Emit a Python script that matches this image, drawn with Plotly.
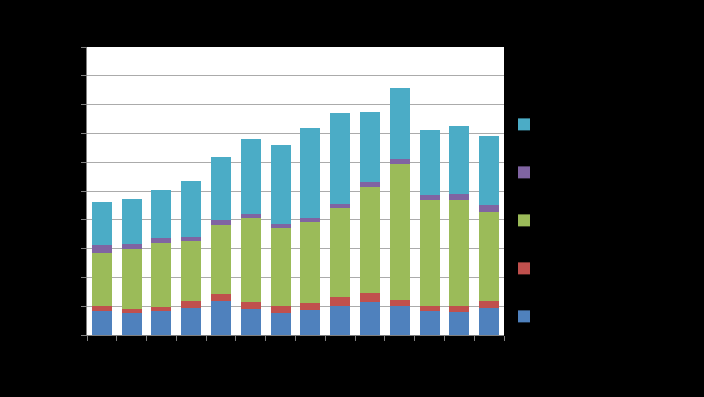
import plotly.graph_objects as go

categories = ["2000", "2001", "2002", "2003", "2004", "2005", "2006",
              "2007", "2008", "2009", "2010", "2011", "2012", "2013"]
series_names = ["Series 1", "Series 2", "Series 3", "Series 4", "Series 5"]
s1 = [8.3, 7.6, 8.2, 9.3, 11.9, 9.1, 7.5, 8.6, 10.1, 11.5, 10.1, 8.4, 7.9, 9.4]
s2 = [1.7, 1.6, 1.6, 2.6, 2.4, 2.3, 2.6, 2.6, 3.2, 3.2, 2.2, 1.5, 2.3, 2.5]
s3 = [18.5, 20.8, 22.1, 20.7, 24.0, 29.3, 26.9, 27.9, 30.9, 36.8, 47.0, 36.9, 36.8, 30.9]
s4 = [2.7, 1.6, 1.8, 1.5, 1.7, 1.3, 1.6, 1.6, 1.3, 1.7, 1.8, 1.8, 1.9, 2.3]
s5 = [14.9, 15.5, 16.8, 19.3, 21.9, 25.9, 27.3, 31.1, 31.6, 24.2, 24.8, 22.7, 23.5, 24.1]
colors = ["#4F81BD", "#C0504D", "#9BBB59", "#8064A2", "#4BACC6"]

fig = go.Figure()
for i, (name, vals, col) in enumerate(zip(series_names, [s1, s2, s3, s4, s5], colors)):
    fig.add_trace(go.Bar(x=categories, y=vals, name=name, marker_color=col,
                         marker_line_width=0, legendgroup=name,
                         legendrank=1000 - i))

fig.update_layout(
    barmode="stack",
    bargap=0.33,
    width=704, height=397,
    margin=dict(l=87, r=200, t=47, b=62),
    paper_bgcolor="black",
    plot_bgcolor="white",
    font=dict(family="Liberation Sans", size=12, color="black"),
    legend=dict(x=1.0, xanchor="left", y=0.398, yanchor="middle",
                traceorder="grouped", tracegroupgap=29,
                font=dict(color="black", size=12), bgcolor="rgba(0,0,0,0)"),
    xaxis=dict(showgrid=False, ticks="outside", tickson="boundaries", ticklen=5,
               tickcolor="#808080", showline=True, linecolor="#808080",
               tickfont=dict(color="black")),
    yaxis=dict(range=[0, 100], dtick=10, showgrid=True, gridcolor="#ABABAB",
               gridwidth=1, ticks="outside", ticklen=5, tickcolor="#808080",
               showline=True, linecolor="#808080", zeroline=False,
               tickfont=dict(color="black")),
)
fig.write_html("out.html", config={"displayModeBar": False},
               post_script="document.body.style.margin='0';document.body.style.background='black';")
